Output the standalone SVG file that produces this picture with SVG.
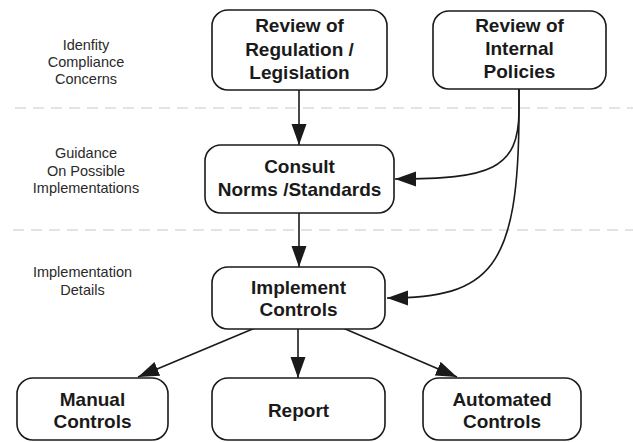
<svg xmlns="http://www.w3.org/2000/svg" width="633" height="442" viewBox="0 0 633 442">
  <style>
    .box { fill: #ffffff; stroke: #1a1a1a; stroke-width: 1.6; }
    .title { font-family: "Liberation Sans", Arial, Helvetica, sans-serif; font-weight: bold; font-size: 19px; fill: #1a1a1a; text-anchor: middle; }
    .phase { font-family: "Liberation Sans", Arial, Helvetica, sans-serif; font-size: 14.5px; fill: #2a2a2a; text-anchor: middle; }
    .divider { stroke: #c8c8c8; stroke-width: 1; stroke-dasharray: 11 7; fill: none; }
    .edge { fill: none; stroke: #1a1a1a; stroke-width: 1.6; marker-end: url(#arrow); }
  </style>
  <defs>
    <marker id="arrow" markerUnits="userSpaceOnUse" markerWidth="22" markerHeight="16" refX="21" refY="7.5" orient="auto">
      <path d="M0,0 L21,7.5 L0,15 z" fill="#1a1a1a"/>
    </marker>
  </defs>

  <rect width="633" height="442" fill="#ffffff"/>

  <!-- phase dividers -->
  <g id="dividers">
    <line class="divider" x1="15" y1="108" x2="633" y2="108"/>
    <line class="divider" x1="13" y1="230" x2="633" y2="230"/>
  </g>

  <!-- phase labels -->
  <g id="phase-labels">
    <text class="phase" x="86" y="50">Idenfity</text>
    <text class="phase" x="86" y="67">Compliance</text>
    <text class="phase" x="86" y="84">Concerns</text>
    <text class="phase" x="86" y="158">Guidance</text>
    <text class="phase" x="86" y="176">On Possible</text>
    <text class="phase" x="86" y="193">Implementations</text>
    <text class="phase" x="82.5" y="277">Implementation</text>
    <text class="phase" x="82.5" y="295">Details</text>
  </g>

  <!-- connectors -->
  <g id="connectors">
    <path class="edge" d="M299,90 L299,145"/>
    <path class="edge" d="M519,89 L519,110 C519,170 490,179 395,179"/>
    <path class="edge" d="M519,89 L519,110 C519,270 490,298 387,298"/>
    <path class="edge" d="M299,213 L299,267"/>
    <path class="edge" d="M255,328 L138,377"/>
    <path class="edge" d="M298,329 L298,378"/>
    <path class="edge" d="M343,328 L457,377"/>
  </g>

  <g id="review-regulation">
    <rect class="box" x="212" y="10" width="175" height="80" rx="16"/>
    <text class="title" x="299.5" y="32">Review of</text>
    <text class="title" x="299.5" y="55.5">Regulation /</text>
    <text class="title" x="299.5" y="78.5">Legislation</text>
  </g>

  <g id="review-policies">
    <rect class="box" x="433" y="11" width="173" height="78" rx="16"/>
    <text class="title" x="519.5" y="32">Review of</text>
    <text class="title" x="519.5" y="55">Internal</text>
    <text class="title" x="519.5" y="78">Policies</text>
  </g>

  <g id="consult-norms">
    <rect class="box" x="205" y="145" width="189" height="68" rx="16"/>
    <text class="title" x="299.5" y="172.5">Consult</text>
    <text class="title" x="299.5" y="196">Norms /Standards</text>
  </g>

  <g id="implement-controls">
    <rect class="box" x="212" y="267" width="173" height="62" rx="16"/>
    <text class="title" x="298.5" y="293.5">Implement</text>
    <text class="title" x="298.5" y="316">Controls</text>
  </g>

  <g id="manual-controls">
    <rect class="box" x="17" y="378" width="151" height="62" rx="16"/>
    <text class="title" x="92.5" y="406">Manual</text>
    <text class="title" x="92.5" y="428">Controls</text>
  </g>

  <g id="report">
    <rect class="box" x="212" y="378" width="173" height="62" rx="16"/>
    <text class="title" x="298.5" y="417">Report</text>
  </g>

  <g id="automated-controls">
    <rect class="box" x="423" y="378" width="158" height="62" rx="16"/>
    <text class="title" x="502" y="406">Automated</text>
    <text class="title" x="502" y="428">Controls</text>
  </g>
</svg>
